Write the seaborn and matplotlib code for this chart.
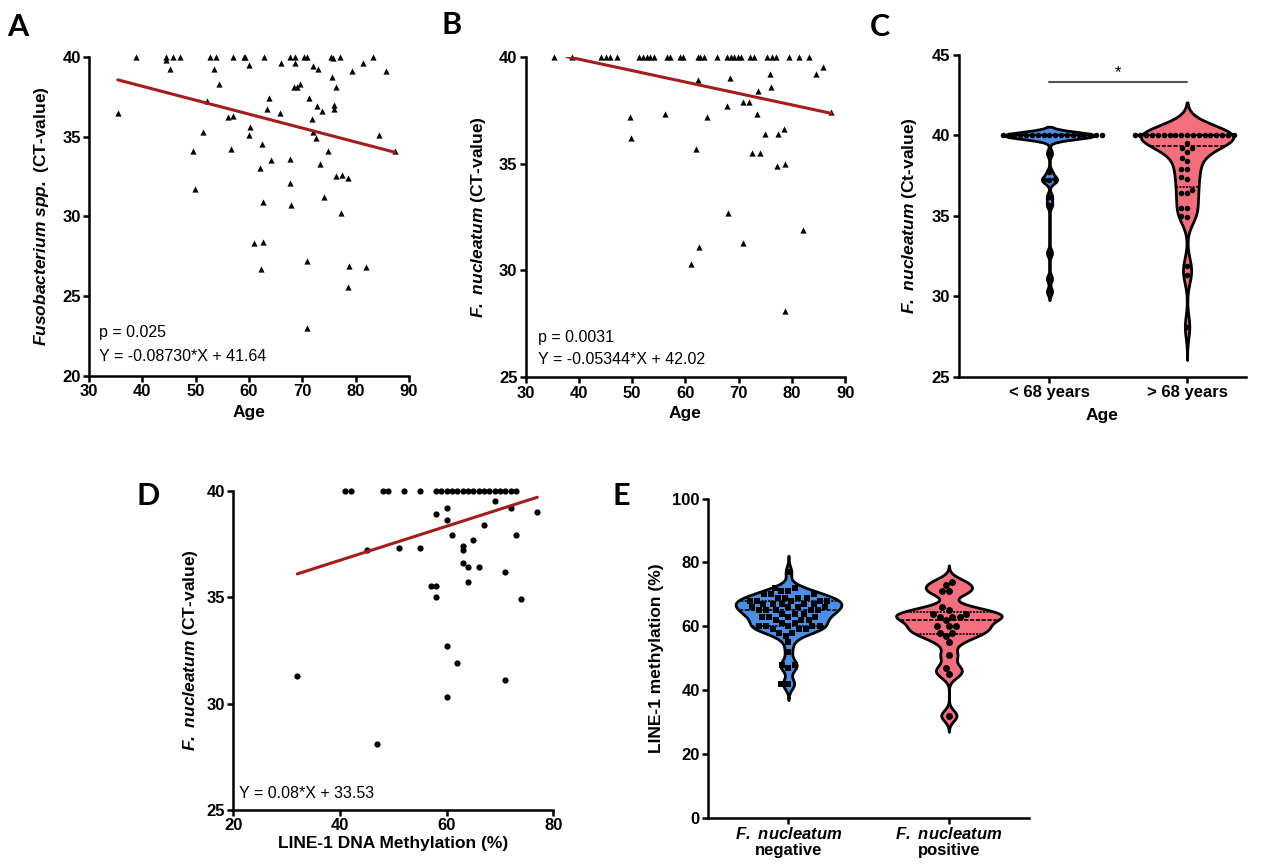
import numpy as np
import pandas as pd
import matplotlib
matplotlib.use("Agg")
import matplotlib.pyplot as plt
import seaborn as sns

# ---- panel A: Fusobacterium spp. Ct vs age ----
a_age = [38.8, 44.4, 45.7, 47.1, 52.7, 53.9, 57.0, 59.0, 59.3, 62.9, 67.7, 68.7, 70.4, 70.8, 75.4, 77.0, 83.2,
         44.4, 75.8, 60.1, 66.0, 68.7, 72.1, 72.9, 81.3, 45.2, 53.4, 79.4, 85.7, 75.6, 54.4, 69.6, 68.4, 69.1,
         76.4, 71.2, 63.7, 52.2, 72.8, 75.9, 76.0, 63.4, 73.7, 65.8, 35.4, 56.1, 57.1, 71.9, 60.2, 60.1, 51.4,
         72.1, 72.5, 84.4, 62.4, 49.6, 56.6, 74.8, 87.3, 64.2, 67.7, 62.0, 73.4, 67.7, 76.4, 77.4, 78.5, 49.8,
         62.7, 67.9, 74.1, 77.2, 61.0, 62.6, 70.8, 78.7, 81.9, 62.3, 78.6, 70.8]
a_ct = [40.0, 40.0, 40.0, 40.0, 40.0, 40.0, 40.0, 40.0, 40.0, 40.0, 40.0, 40.0, 40.0, 40.0, 40.0, 40.0, 40.0,
        39.8, 39.9, 39.5, 39.6, 39.6, 39.4, 39.2, 39.6, 39.2, 39.2, 39.1, 39.1, 38.7, 38.3, 38.3, 38.1, 38.1,
        38.1, 37.4, 37.4, 37.2, 36.9, 37.0, 36.7, 36.7, 36.6, 36.5, 36.5, 36.2, 36.3, 36.1, 35.6, 35.1, 35.3,
        35.3, 34.9, 35.1, 34.5, 34.1, 34.2, 34.1, 34.1, 33.5, 33.6, 33.0, 33.3, 32.1, 32.5, 32.6, 32.4, 31.7,
        30.9, 30.7, 31.2, 30.2, 28.3, 28.4, 27.2, 26.9, 26.8, 26.7, 25.6, 23.0]
a_slope, a_intercept = -0.08730, 41.64

# ---- panel B: F. nucleatum Ct vs age ----
b_age = [35.3, 38.6, 44.2, 45.0, 45.9, 47.2, 51.3, 52.0, 52.7, 53.4, 54.1, 56.5, 57.1, 58.9, 59.5, 62.3,
         62.8, 63.4, 66.0, 67.8, 68.5, 69.2, 69.9, 70.5, 72.2, 72.8, 75.4, 76.2, 77.0, 79.4, 81.4, 83.3,
         85.8, 84.5, 75.9, 62.4, 68.4, 76.0, 73.7, 70.8, 72.0, 67.8, 87.4, 49.5, 56.1, 64.1, 73.4, 49.7,
         74.9, 77.4, 78.6, 62.0, 72.5, 74.0, 77.2, 78.8, 68.0, 82.0, 70.8, 62.6, 61.0, 78.7]
b_ct = [40.0, 40.0, 40.0, 40.0, 40.0, 40.0, 40.0, 40.0, 40.0, 40.0, 40.0, 40.0, 40.0, 40.0, 40.0, 40.0,
        40.0, 40.0, 40.0, 40.0, 40.0, 40.0, 40.0, 40.0, 40.0, 40.0, 40.0, 40.0, 40.0, 40.0, 40.0, 40.0,
        39.5, 39.2, 39.2, 38.9, 39.0, 38.6, 38.4, 37.9, 37.9, 37.7, 37.4, 37.2, 37.3, 37.2, 37.3, 36.2,
        36.4, 36.4, 36.6, 35.7, 35.5, 35.5, 34.9, 35.0, 32.7, 31.9, 31.3, 31.1, 30.3, 28.1]
b_slope, b_intercept = -0.05344, 42.02
b_fit_range = [37.7, 87.4]

# ---- panel C: Ct by age group ----
c_groups = ["< 68 years", "> 68 years"]
c_young = [40.0, 40.0, 40.0, 40.0, 40.0, 40.0, 40.0, 40.0, 40.0, 40.0, 40.0, 40.0, 40.0, 40.0, 40.0, 40.0,
           40.0, 40.0, 38.9, 37.7, 37.3, 37.2, 37.2, 36.2, 35.7, 32.7, 31.1, 30.3]
c_old = [40.0, 40.0, 40.0, 40.0, 40.0, 40.0, 40.0, 40.0, 40.0, 40.0, 40.0, 40.0, 40.0, 40.0, 40.0, 40.0,
         40.0, 40.0, 39.5, 39.2, 39.2, 39.0, 38.6, 38.4, 37.9, 37.9, 37.4, 37.3, 36.6, 36.4, 36.4, 35.5,
         35.5, 35.0, 34.9, 31.9, 31.3, 28.1]

# ---- panel D: F. nucleatum Ct vs LINE-1 methylation ----
d_meth = [41, 42, 48, 49, 52, 55, 58, 59, 60, 61, 62, 63, 64, 65, 66, 67, 68, 69, 70, 71, 72, 73,
          60, 58, 60, 69, 72, 77, 67, 61, 73, 65, 63, 63, 45, 51, 55, 63, 64, 66, 71, 64, 57, 58, 58,
          74, 60, 62, 32, 71, 60, 47]
d_ct = [40.0, 40.0, 40.0, 40.0, 40.0, 40.0, 40.0, 40.0, 40.0, 40.0, 40.0, 40.0, 40.0, 40.0, 40.0, 40.0,
        40.0, 40.0, 40.0, 40.0, 40.0, 40.0,
        39.2, 38.9, 38.6, 39.5, 39.2, 39.0, 38.4, 37.9, 37.9, 37.7, 37.4, 37.2, 37.2, 37.3, 37.3, 36.6,
        36.4, 36.4, 36.2, 35.7, 35.5, 35.5, 35.0, 34.9, 32.7, 31.9, 31.3, 31.1, 30.3, 28.1]
d_slope, d_intercept = 0.08, 33.53

# ---- panel E: LINE-1 methylation by F. nucleatum status ----
e_groups = ["negative", "positive"]
e_neg = [77, 72, 72, 71, 71, 70, 70, 70, 69, 69, 69, 69, 68, 68, 68, 68, 68,
         67, 67, 67, 67, 67, 66, 66, 66, 66, 65, 65, 65, 65, 65, 64, 64, 64,
         63, 63, 63, 63, 62, 62, 62, 61, 61, 60, 60, 60, 60, 60, 59, 59, 59,
         58, 58, 57, 55, 52, 48, 48, 47, 42, 42]
e_pos = [74, 73, 71, 71, 65, 66, 63, 63, 64, 64, 62, 63, 60, 60, 60, 58, 57, 58, 55, 51, 47, 45, 32]

blue = "#4a8fe7"
pink = "#f46e7e"
red = "#a51c1c"
fn = r"$\mathbfit{F.}$ $\mathbfit{nucleatum}$"

sns.set_theme(style="ticks", rc={"axes.edgecolor": "black", "text.color": "black",
                                 "axes.labelcolor": "black", "xtick.color": "black",
                                 "ytick.color": "black"})
plt.rcParams["font.family"] = ["Liberation Sans", "DejaVu Sans"]
plt.rcParams["font.weight"] = "bold"
plt.rcParams["axes.labelweight"] = "bold"
plt.rcParams["mathtext.fontset"] = "custom"
plt.rcParams["mathtext.rm"] = "Liberation Sans:bold"
plt.rcParams["mathtext.bfit"] = "Liberation Sans:italic:bold"


def style_axis(ax, labelpad_y=8):
    sns.despine(ax=ax)
    for side in ["left", "bottom"]:
        ax.spines[side].set_linewidth(1.8)
    ax.tick_params(width=1.8, length=4, labelsize=12, pad=2)
    ax.yaxis.labelpad = labelpad_y
    ax.xaxis.label.set_size(12.5)
    ax.yaxis.label.set_size(12.5)


fig = plt.figure(figsize=(12.82, 8.64), dpi=100)

# A
ax = fig.add_axes([0.0694, 0.5648, 0.2496, 0.3696])
sns.scatterplot(x=a_age, y=a_ct, marker="^", color="black", s=20, linewidth=0, clip_on=False, ax=ax)
fx = np.array([min(a_age), max(a_age)])
sns.lineplot(x=fx, y=a_slope * fx + a_intercept, color=red, linewidth=2.2, ax=ax)
ax.set_xlim(30, 90)
ax.set_ylim(20, 40)
ax.set_xticks(range(30, 91, 10))
ax.set_yticks(range(20, 41, 5))
ax.set_xlabel("Age")
ax.set_ylabel(r"$\mathbfit{Fusobacterium}$ $\mathbfit{spp.}$ (CT-value)")
ax.text(0.031, 0.1375, "p = 0.025", transform=ax.transAxes, fontsize=11.5, fontweight="normal", va="center")
ax.text(0.031, 0.06, f"Y = {a_slope:.5f}*X + {a_intercept:.2f}", transform=ax.transAxes,
        fontsize=11.5, fontweight="normal", va="center")
style_axis(ax, 8)

# B
ax = fig.add_axes([0.4101, 0.5633, 0.2491, 0.3711])
sns.scatterplot(x=b_age, y=b_ct, marker="^", color="black", s=20, linewidth=0, clip_on=False, ax=ax)
fx = np.array(b_fit_range)
sns.lineplot(x=fx, y=b_slope * fx + b_intercept, color=red, linewidth=2.2, ax=ax)
ax.set_xlim(30, 90)
ax.set_ylim(25, 40)
ax.set_xticks(range(30, 91, 10))
ax.set_yticks(range(25, 41, 5))
ax.set_xlabel("Age")
ax.set_ylabel(fn + " (CT-value)")
ax.text(0.038, 0.123, "p = 0.0031", transform=ax.transAxes, fontsize=11.5, fontweight="normal", va="center")
ax.text(0.038, 0.056, f"Y = {b_slope:.5f}*X + {b_intercept:.2f}", transform=ax.transAxes,
        fontsize=11.5, fontweight="normal", va="center")
style_axis(ax, 8)

# C
ax = fig.add_axes([0.7478, 0.564, 0.2243, 0.3723])
for name, vals, col, bw, cut in zip(c_groups, [c_young, c_old], [blue, pink], [0.15, 0.5], [2.5, 3]):
    sns.violinplot(x=[name] * len(vals), y=vals, order=c_groups, color=col, saturation=1,
                   inner="quart", inner_kws={"linewidth": 1.2}, linecolor="black", linewidth=2,
                   bw_adjust=bw, cut=cut, density_norm="width", width=0.67, ax=ax)
    sns.swarmplot(x=[name] * len(vals), y=vals, order=c_groups, color="black", size=4, ax=ax)
ax.plot([0, 1], [43.3, 43.3], color="#555555", linewidth=1.5)
ax.text(0.5, 43.45, "*", ha="center", va="bottom", fontsize=12, fontweight="normal")
ax.set_xlim(-0.66, 1.43)
ax.set_ylim(25, 45)
ax.set_yticks(range(25, 46, 5))
ax.set_xlabel("Age")
ax.set_ylabel(fn + " (Ct-value)")
style_axis(ax, 9)
ax.xaxis.labelpad = 6

# D
ax = fig.add_axes([0.182, 0.0625, 0.2496, 0.3696])
sns.scatterplot(x=d_meth, y=d_ct, marker="o", color="black", s=20, linewidth=0, clip_on=False, ax=ax)
fx = np.array([min(d_meth), max(d_meth)])
sns.lineplot(x=fx, y=d_slope * fx + d_intercept, color=red, linewidth=2.2, ax=ax)
ax.set_xlim(20, 80)
ax.set_ylim(25, 40)
ax.set_xticks(range(20, 81, 20))
ax.set_yticks(range(25, 41, 5))
ax.set_xlabel("LINE-1 DNA Methylation (%)")
ax.set_ylabel(fn + " (CT-value)")
ax.text(0.019, 0.053, f"Y = {d_slope:.2f}*X + {d_intercept:.2f}", transform=ax.transAxes,
        fontsize=11.5, fontweight="normal", va="center")
style_axis(ax, 5)
ax.xaxis.labelpad = 2

# E
ax = fig.add_axes([0.5525, 0.0536, 0.2502, 0.3692])
for name, vals, col, bw, mk in zip(e_groups, [e_neg, e_pos], [blue, pink], [0.55, 0.33], ["s", "o"]):
    sns.violinplot(x=[name] * len(vals), y=vals, order=e_groups, color=col, saturation=1,
                   inner="quart", inner_kws={"linewidth": 1.2}, linecolor="black", linewidth=2,
                   bw_adjust=bw, cut=3, density_norm="width", width=0.66, ax=ax)
    sns.swarmplot(x=[name] * len(vals), y=vals, order=e_groups, color="black", marker=mk,
                  size=5, ax=ax)
ax.set_xlim(-0.5, 1.5)
ax.set_ylim(0, 100)
ax.set_yticks(range(0, 101, 20))
ax.set_xticks([0, 1])
ax.set_xticklabels([fn + "\n" + g for g in e_groups], linespacing=1.1)
ax.set_xlabel("")
ax.set_ylabel("LINE-1 methylation (%)")
style_axis(ax, 6)

# panel letters
for letter, x, y in [("A", 18, 27), ("B", 452, 25), ("C", 880, 27), ("D", 148, 496), ("E", 621, 496)]:
    fig.text(x / 1282, 1 - y / 864, letter, fontsize=22, fontweight="bold",
             family=["Lato", "DejaVu Sans"], ha="center", va="center")

fig.savefig("out.png", dpi=100)
